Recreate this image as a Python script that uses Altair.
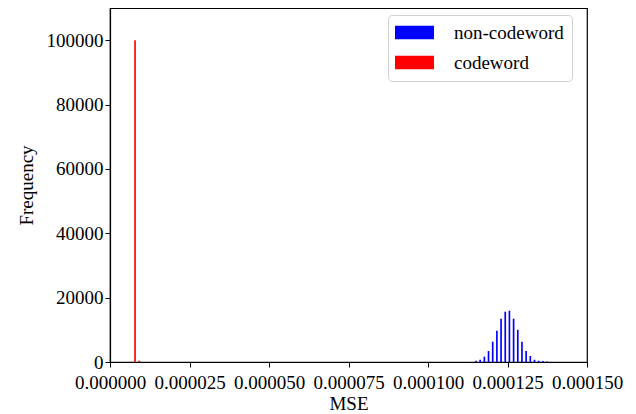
import altair as alt
import pandas as pd

# Histogram: 100 bins spanning the MSE range
bin_start = 6.95e-6
bin_width = 1.314e-6

codeword_bins = [0, 1]
codeword_counts = [100000, 400]

noncodeword_bins = list(range(82, 100))
noncodeword_counts = [400, 700, 1650, 3400, 6300, 9700, 13450, 15630, 15930,
                      13450, 10000, 6300, 3400, 1860, 700, 400, 300, 120]

series_names = ["non-codeword", "codeword"]
series_colors = ["#0000ff", "#ff0000"]

x_ticks = [0, 0.000025, 0.00005, 0.000075, 0.0001, 0.000125, 0.00015]
y_ticks = [0, 20000, 40000, 60000, 80000, 100000]

rows = []
for b, c in zip(noncodeword_bins, noncodeword_counts):
    rows.append({"series": "non-codeword",
                 "x": bin_start + (b + 0.1) * bin_width,
                 "x2": bin_start + (b + 0.5) * bin_width,
                 "count": c})
for b, c in zip(codeword_bins, codeword_counts):
    rows.append({"series": "codeword",
                 "x": bin_start + (b + 0.5) * bin_width,
                 "x2": bin_start + (b + 0.9) * bin_width,
                 "count": c})
df = pd.DataFrame(rows)

FONT = "Liberation Serif"
FS = 19

chart = alt.Chart(df).mark_rect().encode(
    x=alt.X("x:Q", title="MSE",
            scale=alt.Scale(domain=[0, 0.00015], nice=False, zero=False),
            axis=alt.Axis(values=x_ticks, format=".6f", grid=False,
                          labelFlush=False, labelOverlap=False)),
    x2="x2:Q",
    y=alt.Y("count:Q", title="Frequency",
            scale=alt.Scale(domain=[0, 110000], nice=False),
            axis=alt.Axis(values=y_ticks, format="d", grid=False)),
    color=alt.Color("series:N",
                    scale=alt.Scale(domain=series_names, range=series_colors),
                    legend=alt.Legend(
                        title=None, orient="none", legendX=278, legendY=7,
                        symbolType="M-1.615,-1.05L4.385,-1.05L4.385,1.05L-1.615,1.05Z",
                        symbolSize=169, symbolStrokeWidth=0,
                        labelFont=FONT, labelFontSize=FS, labelColor="#000",
                        labelOffset=39, rowPadding=10,
                        padding=8, strokeColor="#d0d0d0", fillColor="white",
                        cornerRadius=4)),
).properties(
    width=477, height=354,
    autosize=alt.AutoSizeParams(type="none"),
    padding={"left": 102, "top": 0, "right": 40, "bottom": 50},
).configure_view(
    stroke="black", strokeWidth=1.2
).configure_axis(
    labelFont=FONT, labelFontSize=FS, labelColor="#000",
    titleFont=FONT, titleFontSize=FS, titleColor="#000", titleFontWeight="normal",
    domainColor="#000", tickColor="#000", tickSize=5, domainWidth=1.2,
    labelPadding=2,
).configure_axisY(titlePadding=10).configure_axisX(titlePadding=2, labelPadding=6)

chart.save("out.html", embed_options={"renderer": "svg", "actions": False})
